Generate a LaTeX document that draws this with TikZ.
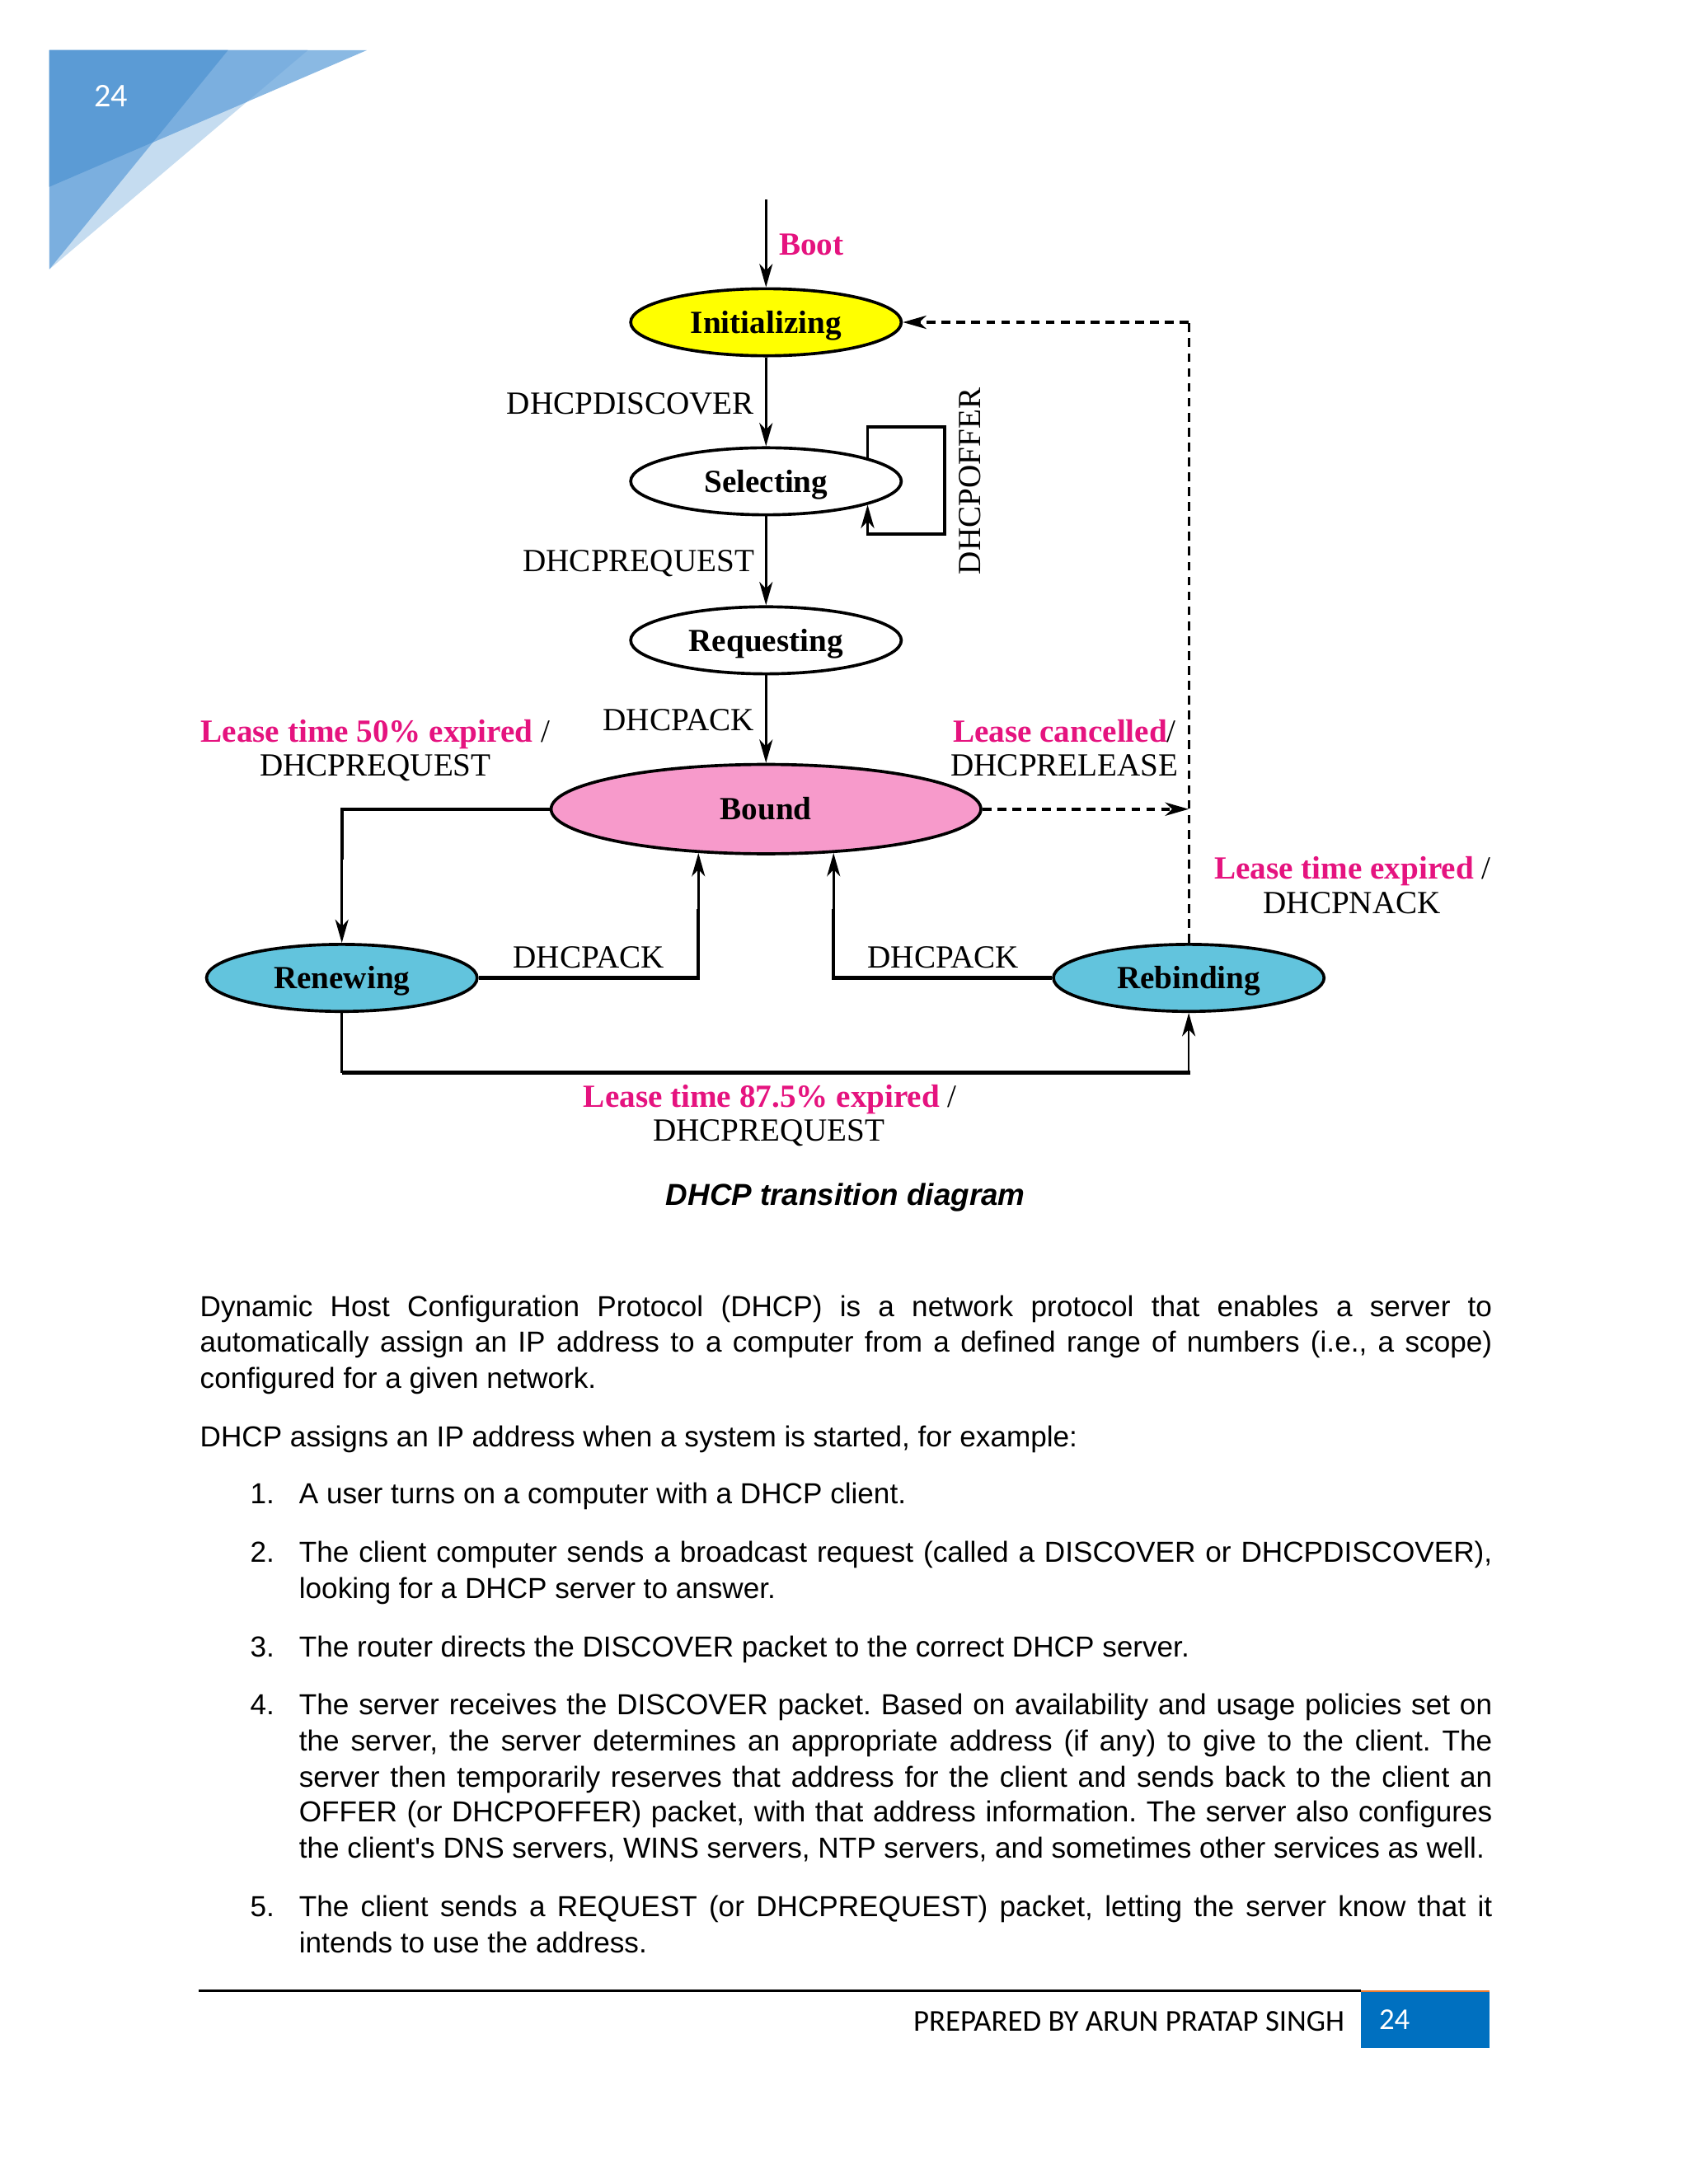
\documentclass[tikz,border=0pt]{standalone}
\usepackage{fontspec}
\setmainfont{Liberation Serif}
\newfontfamily\arialf{Liberation Sans}
\newfontfamily\calif{Carlito}
\usetikzlibrary{arrows.meta,shapes.geometric,calc}
\definecolor{mag}{HTML}{E5137F}
\definecolor{yel}{HTML}{FFFF00}
\definecolor{pinkb}{HTML}{F79ACB}
\definecolor{cyanb}{HTML}{62C4DD}
\definecolor{decoD}{HTML}{5B9BD5}
\definecolor{decoM}{HTML}{7BAFDF}
\definecolor{decoR}{HTML}{8AB9E3}
\definecolor{decoL}{HTML}{C5DCF0}
\definecolor{fblue}{HTML}{0070C0}
\definecolor{forange}{HTML}{ED7D31}
\frenchspacing
\begin{document}
\frenchspacing
\begin{tikzpicture}[x=0.50579bp,y=-0.50579bp,
  >={Stealth[length=8.5bp,width=4.8bp,inset=2.5bp]},
  state/.style={ellipse,draw=black,line width=1.1pt,inner sep=0pt,
    minimum width=98.1bp,minimum height=24.3bp,text height=7.9bp,text depth=0pt,
    font=\fontsize{11.7bp}{13bp}\selectfont\bfseries},
  bigstate/.style={state,minimum width=155.8bp,minimum height=32.4bp},
  conn/.style={draw=black,line width=0.8pt},
  thickconn/.style={draw=black,line width=1.3pt},
  dashconn/.style={draw=black,line width=0.9pt,dash pattern=on 3.2bp off 2.2bp},
  lbl/.style={inner sep=0pt,font=\fontsize{11.7bp}{13bp}\selectfont},
  mlbl/.style={lbl,text=mag,font=\fontsize{11.7bp}{13bp}\selectfont\bfseries},
  body/.style={inner sep=0pt,anchor=base west,font=\arialf\fontsize{10.5bp}{12.9bp}\selectfont},
]
\useasboundingbox (0,0) rectangle (1210,1565.6);
\fill[white] (0,0) rectangle (1210,1565.6);

% corner decoration
\fill[decoL] (35.4,36) -- (220.6,36) -- (35.4,193) -- cycle;
\fill[decoR] (35.4,36) -- (262.9,36) -- (35.4,133.9) -- cycle;
\begin{scope}
  \clip (35.4,36) -- (220.6,36) -- (35.4,193) -- cycle;
  \fill[decoM] (35.4,36) -- (262.9,36) -- (35.4,133.9) -- cycle;
\end{scope}
\fill[decoM] (35.4,36) -- (163.4,36) -- (35.4,193) -- cycle;
\begin{scope}
  \clip (35.4,36) -- (262.9,36) -- (35.4,133.9) -- cycle;
  \fill[decoD] (35.4,36) -- (163.4,36) -- (35.4,193) -- cycle;
\end{scope}
\node[inner sep=0pt,text=white,font=\calif\fontsize{12bp}{14bp}\selectfont] (pgtop) at (79.7,69) {24};

% states
\node[state,fill=yel] (init) at (549,231) {Initializing};
\node[state,fill=white] (sel) at (549,345) {Selecting};
\node[state,fill=white] (req) at (549,459) {Requesting};
\node[bigstate,fill=pinkb] (bound) at (549,580) {Bound};
\node[state,fill=cyanb] (ren) at (245,701) {Renewing};
\node[state,fill=cyanb] (reb) at (852,701) {Rebinding};

% coordinates
\coordinate (bootstart) at (549,143);
\coordinate (loopA) at (677,306);
\coordinate (loopB) at (677,383);
\coordinate (dashend) at (852,580);
\coordinate (dashtop) at (852,231);
\coordinate (bottomL) at (245,769);

% connectors
\draw[conn,->] (bootstart) -- (init.north);
\draw[conn,->] (init.south) -- (sel.north);
\draw[conn,->] (sel.south) -- (req.north);
\draw[conn,->] (req.south) -- (bound.north);
\draw[conn,line width=1.1pt,->] (sel.13.5) |- (loopA) -- (loopB) -| (sel.-13.5);
\draw[thickconn] (bound.west) -| ($(ren.north)+(0,-60)$);
\draw[conn,->] ($(ren.north)+(0,-60)$) -- (ren.north);
\draw[thickconn] (ren.east) -| ($(bound.213)+(0,40)$);
\draw[conn,->] ($(bound.213)+(0,40)$) -- (bound.213);
\draw[thickconn] (reb.west) -| ($(bound.327)+(0,40)$);
\draw[conn,->] ($(bound.327)+(0,40)$) -- (bound.327);
\draw[conn] (ren.south) -- (bottomL);
\draw[thickconn] (bottomL) -| ($(reb.south)+(0,44)$);
\draw[conn,->] ($(reb.south)+(0,44)$) -- (reb.south);
\draw[dashconn,line width=1.3pt,->] (bound.east) -- (dashend);
\draw[dashconn] (reb.north) -- (dashtop);
\draw[dashconn,line width=1.3pt,->] (dashtop) -- (init.east);

% labels
\node[mlbl,anchor=base west] (lboot) at (558,183) {Boot};
\node[lbl,anchor=base east] (ldisc) at (541,297) {DHCPDISCOVER};
\node[lbl,anchor=base,rotate=90] (loffer) at (703,345) {DHCPOFFER};
\node[lbl,anchor=base east] (lreq) at (541,410) {DHCPREQUEST};
\node[lbl,anchor=base east] (lack) at (541,524) {DHCPACK};
\node[lbl,anchor=base] (l50a) at (269,532) {\textcolor{mag}{\bfseries Lease time 50\% expired} /};
\node[lbl,anchor=base] (l50b) at (269,556) {DHCPREQUEST};
\node[lbl,anchor=base] (lcana) at (763,532) {\textcolor{mag}{\bfseries Lease cancelled}/};
\node[lbl,anchor=base] (lcanb) at (763,556) {DHCPRELEASE};
\node[lbl,anchor=base] (lexpa) at (969.5,630) {\textcolor{mag}{\bfseries Lease time expired} /};
\node[lbl,anchor=base] (lexpb) at (969,655) {DHCPNACK};
\node[lbl,anchor=base] (lackl) at (422,694) {DHCPACK};
\node[lbl,anchor=base] (lackr) at (676,694) {DHCPACK};
\node[lbl,anchor=base] (l87a) at (552,794) {\textcolor{mag}{\bfseries Lease time 87.5\% expired} /};
\node[lbl,anchor=base] (l87b) at (551,818) {DHCPREQUEST};

% caption
\node[inner sep=0pt,anchor=base,font=\arialf\bfseries\itshape\fontsize{11bp}{13bp}\selectfont] (cap) at (606,864) {DHCP transition diagram};

% body text
\node[body] (p1a) at (143,944) {\makebox[468.4bp][s]{Dynamic Host Configuration Protocol (DHCP) is a network protocol that enables a server to}};
\node[body] (p1b) at (143,969) {\makebox[468.4bp][s]{automatically assign an IP address to a computer from a defined range of numbers (i.e., a scope)}};
\node[body] (p1c) at (143,995) {configured for a given network.};
\node[body] (p2) at (143,1037) {DHCP assigns an IP address when a system is started, for example:};
\node[body] (n1) at (179,1078) {1.};
\node[body] (i1) at (214,1078) {A user turns on a computer with a DHCP client.};
\node[body] (n2) at (179,1120) {2.};
\node[body] (i2a) at (214,1120) {\makebox[432.5bp][s]{The client computer sends a broadcast request (called a DISCOVER or DHCPDISCOVER),}};
\node[body] (i2b) at (214,1146) {looking for a DHCP server to answer.};
\node[body] (n3) at (179,1188) {3.};
\node[body] (i3) at (214,1188) {The router directs the DISCOVER packet to the correct DHCP server.};
\node[body] (n4) at (179,1229) {4.};
\node[body] (i4a) at (214,1229) {\makebox[432.5bp][s]{The server receives the DISCOVER packet. Based on availability and usage policies set on}};
\node[body] (i4b) at (214,1255) {\makebox[432.5bp][s]{the server, the server determines an appropriate address (if any) to give to the client. The}};
\node[body] (i4c) at (214,1281) {\makebox[432.5bp][s]{server then temporarily reserves that address for the client and sends back to the client an}};
\node[body] (i4d) at (214,1306) {\makebox[432.5bp][s]{OFFER (or DHCPOFFER) packet, with that address information. The server also configures}};
\node[body] (i4e) at (214,1332) {the client's DNS servers, WINS servers, NTP servers, and sometimes other services as well.};
\node[body] (n5) at (179,1374) {5.};
\node[body] (i5a) at (214,1374) {\makebox[432.5bp][s]{The client sends a REQUEST (or DHCPREQUEST) packet, letting the server know that it}};
\node[body] (i5b) at (214,1400) {intends to use the address.};

% footer
\draw[black,line width=1pt] (142.5,1427) -- (975.5,1427);
\fill[fblue] (975.5,1427) rectangle (1067.6,1468);
\draw[forange,line width=0.6pt] (975.5,1427.3) -- (1067.6,1427.3);
\node[inner sep=0pt,anchor=east,font=\calif\fontsize{11bp}{13bp}\selectfont] (prep) at (964,1449) {PREPARED BY ARUN PRATAP SINGH};
\node[inner sep=0pt,anchor=west,text=white,font=\calif\fontsize{11bp}{13bp}\selectfont] (pgbot) at (988,1448) {24};
\end{tikzpicture}
\end{document}
